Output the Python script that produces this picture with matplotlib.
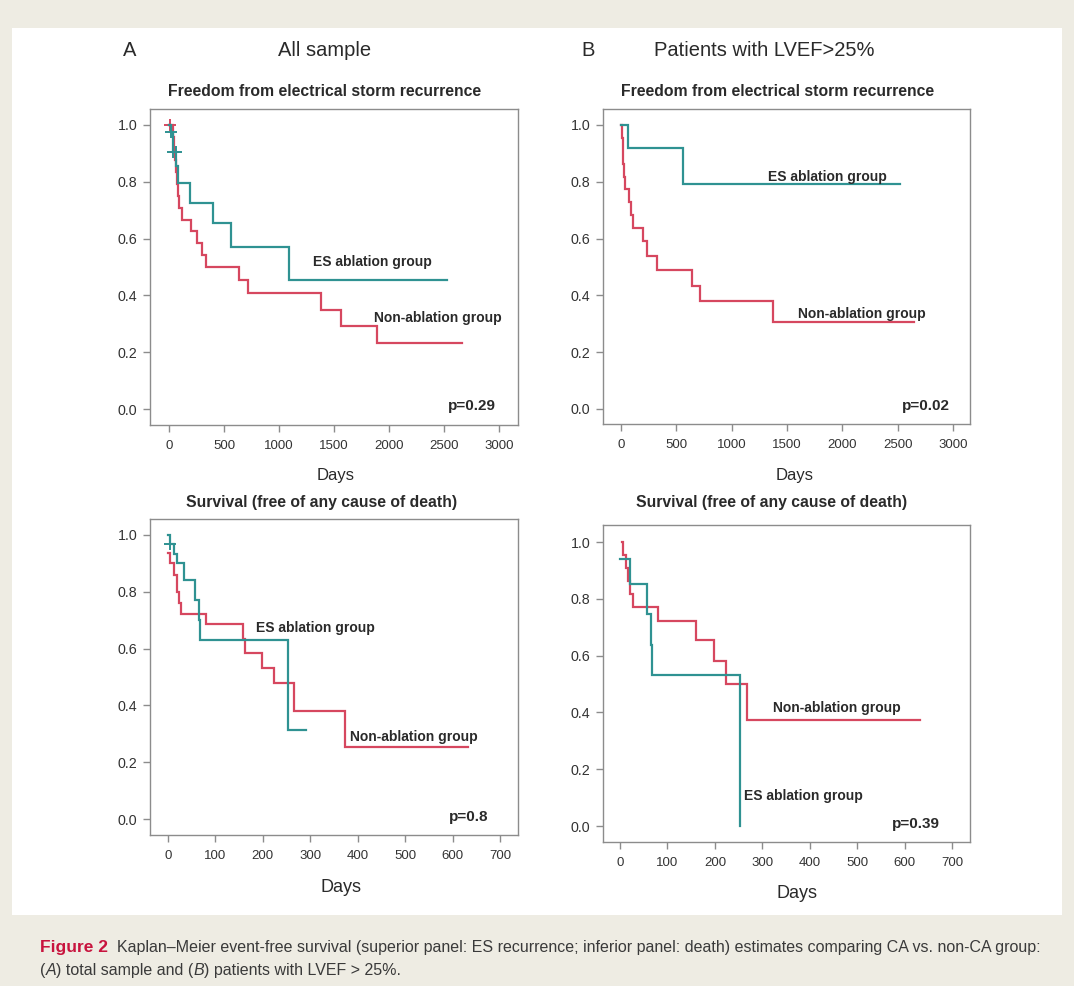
import numpy as np
import matplotlib.pyplot as plt
from matplotlib.patches import Rectangle

W, H = 1074, 986

# ---- freedom from ES recurrence, all sample ----
storm_all_ca_t = [0, 15, 40, 65, 85, 190, 403, 563, 1093, 2528]
storm_all_ca_s = [1.0, 0.976, 0.906, 0.855, 0.797, 0.726, 0.654, 0.572, 0.456, 0.456]
storm_all_ca_cens = [15, 40, 62]
storm_all_nonca_t = [0, 38, 45, 52, 60, 70, 78, 90, 115, 197, 250, 297, 336,
                     639, 715, 1378, 1568, 1895, 2667]
storm_all_nonca_s = [1.0, 0.958, 0.917, 0.875, 0.833, 0.792, 0.75, 0.708, 0.667,
                     0.625, 0.583, 0.542, 0.50, 0.455, 0.41, 0.35, 0.292, 0.234, 0.234]
storm_all_nonca_cens = [10]

# ---- freedom from ES recurrence, LVEF > 25% ----
storm_ef_ca_t = [0, 66, 564, 2517]
storm_ef_ca_s = [1.0, 0.92, 0.791, 0.791]
storm_ef_ca_cens = []
storm_ef_nonca_t = [0, 8, 15, 22, 30, 39, 75, 87, 105, 202, 238, 329, 645, 714, 1372, 2650]
storm_ef_nonca_s = [1.0, 0.955, 0.909, 0.864, 0.818, 0.773, 0.727, 0.682, 0.636,
                    0.591, 0.54, 0.489, 0.434, 0.381, 0.305, 0.305]
storm_ef_nonca_cens = []

# ---- survival, all sample ----
death_all_ca_t = [0, 4, 12, 19, 33, 56, 65, 68, 253, 292]
death_all_ca_s = [1.0, 0.967, 0.933, 0.90, 0.842, 0.771, 0.70, 0.63, 0.315, 0.315]
death_all_ca_cens = [4]
death_all_nonca_t = [0, 5, 12, 19, 23, 28, 81, 159, 162, 199, 223, 266, 374, 632]
death_all_nonca_s = [0.935, 0.90, 0.86, 0.80, 0.76, 0.72, 0.685, 0.635, 0.586,
                     0.533, 0.478, 0.38, 0.252, 0.252]
death_all_nonca_cens = []

# ---- survival, LVEF > 25% ----
death_ef_ca_t = [0, 20, 56, 65, 68, 253]
death_ef_ca_s = [0.939, 0.853, 0.746, 0.639, 0.531, 0.0]
death_ef_ca_cens = []
death_ef_nonca_t = [4, 6, 13, 17, 21, 28, 80, 160, 199, 223, 267, 632]
death_ef_nonca_s = [1.0, 0.955, 0.909, 0.864, 0.818, 0.771, 0.721, 0.654, 0.581,
                    0.502, 0.375, 0.375]
death_ef_nonca_cens = []

y_ticks = [0.0, 0.2, 0.4, 0.6, 0.8, 1.0]
storm_x_ticks = [0, 500, 1000, 1500, 2000, 2500, 3000]
death_x_ticks = [0, 100, 200, 300, 400, 500, 600, 700]

TEAL = '#2f9292'
RED = '#d6475f'
GREY = '#8c8c8c'
TXT = '#2a2a2a'

plt.rcParams['font.family'] = ['Liberation Sans', 'DejaVu Sans']

fig = plt.figure(figsize=(W / 100, H / 100), dpi=100)
fig.patch.set_facecolor('#eeece3')
fig.patches.append(Rectangle((12 / W, 1 - 915 / H), 1050 / W, 887 / H,
                             transform=fig.transFigure, facecolor='white',
                             edgecolor='none', zorder=-5))


def px_text(x, y, s, **kw):
    return fig.text(x / W, 1 - y / H, s, **kw)


def make_axes(left, top, right, bottom, xlim, ylim, xticks):
    ax = fig.add_axes([left / W, 1 - bottom / H, (right - left) / W, (bottom - top) / H])
    ax.set_xlim(xlim)
    ax.set_ylim(ylim)
    ax.set_xticks(xticks)
    ax.set_yticks(y_ticks)
    ax.set_yticklabels([f"{v:.1f}" for v in y_ticks])
    for sp in ax.spines.values():
        sp.set_color(GREY)
        sp.set_linewidth(1.0)
    ax.tick_params(direction='out', length=5, width=1, color=GREY,
                   labelsize=9.5, labelcolor='#333333')
    ax.tick_params(axis='x', pad=6)
    ax.tick_params(axis='y', pad=4, labelsize=10.3)
    return ax


def km(ax, t, s, cens, color):
    ax.step(t, s, where='post', color=color, lw=1.6, solid_joinstyle='miter')
    if cens:
        idx = np.searchsorted(t, cens, side='right') - 1
        ax.plot(cens, np.array(s)[idx], ls='none', marker='+', ms=9, mew=1.4, color=color)


def group_label(ax, x, y, s, ha='center'):
    ax.text(x, y, s, ha=ha, va='center', fontsize=10, fontweight='bold', color=TXT)


def p_label(ax, x, y, s):
    ax.text(x, y, s, ha='right', va='center', fontsize=11, fontweight='bold', color=TXT)


# top left
ax1 = make_axes(150, 109, 518, 425, (-173, 3173), (-0.056, 1.056), storm_x_ticks)
km(ax1, storm_all_nonca_t, storm_all_nonca_s, storm_all_nonca_cens, RED)
km(ax1, storm_all_ca_t, storm_all_ca_s, storm_all_ca_cens, TEAL)
group_label(ax1, 1847, 0.519, 'ES ablation group')
group_label(ax1, 2446, 0.322, 'Non-ablation group')
p_label(ax1, 2976, 0.01, 'p=0.29')

# top right
ax2 = make_axes(603, 109, 970, 424, (-163, 3153), (-0.053, 1.056), storm_x_ticks)
km(ax2, storm_ef_nonca_t, storm_ef_nonca_s, storm_ef_nonca_cens, RED)
km(ax2, storm_ef_ca_t, storm_ef_ca_s, storm_ef_ca_cens, TEAL)
group_label(ax2, 1860, 0.818, 'ES ablation group')
group_label(ax2, 2177, 0.333, 'Non-ablation group')
p_label(ax2, 2970, 0.01, 'p=0.02')

# bottom left
ax3 = make_axes(150, 519, 518, 835, (-38, 738), (-0.056, 1.056), death_x_ticks)
km(ax3, death_all_nonca_t, death_all_nonca_s, death_all_nonca_cens, RED)
km(ax3, death_all_ca_t, death_all_ca_s, death_all_ca_cens, TEAL)
group_label(ax3, 310, 0.674, 'ES ablation group')
group_label(ax3, 519, 0.29, 'Non-ablation group')
p_label(ax3, 675, 0.008, 'p=0.8')

# bottom right
ax4 = make_axes(603, 525, 970, 842, (-36, 738), (-0.056, 1.06), death_x_ticks)
km(ax4, death_ef_nonca_t, death_ef_nonca_s, death_ef_nonca_cens, RED)
km(ax4, death_ef_ca_t, death_ef_ca_s, death_ef_ca_cens, TEAL)
group_label(ax4, 457, 0.417, 'Non-ablation group')
group_label(ax4, 262, 0.105, 'ES ablation group', ha='left')
p_label(ax4, 674, 0.006, 'p=0.39')

# panel headings
head_kw = dict(ha='center', va='center', fontsize=14.5, color=TXT)
px_text(130, 50, 'A', **head_kw)
px_text(325, 50, 'All sample', **head_kw)
px_text(588, 50, 'B', **head_kw)
px_text(764, 50, 'Patients with LVEF>25%', **head_kw)

# subplot titles
title_kw = dict(ha='center', va='center', fontsize=11.3, fontweight='bold', color=TXT)
px_text(325, 92, 'Freedom from electrical storm recurrence', **title_kw)
px_text(778, 92, 'Freedom from electrical storm recurrence', **title_kw)
px_text(322, 502, 'Survival (free of any cause of death)', **title_kw)
px_text(772, 502, 'Survival (free of any cause of death)', **title_kw)

# x axis labels
px_text(336, 475, 'Days', ha='center', va='center', fontsize=12, color=TXT)
px_text(795, 475, 'Days', ha='center', va='center', fontsize=12, color=TXT)
px_text(341, 887, 'Days', ha='center', va='center', fontsize=13, color=TXT)
px_text(797, 893, 'Days', ha='center', va='center', fontsize=13, color=TXT)

# caption, pieces chained one after another
cap_kw = dict(fontsize=11.5, color='#3a3a3a', va='bottom')
first = px_text(40, 955, 'Figure 2', fontsize=12.5, fontweight='bold',
                color='#c8143e', va='bottom')
plt.annotate('  Kaplan\u2013Meier event-free survival (superior panel: ES recurrence; '
             'inferior panel: death) estimates comparing CA vs. non-CA group:',
             xy=(1, 0), xycoords=first, annotation_clip=False, **cap_kw)

line2 = [('(', 'normal'), ('A', 'italic'), (') total sample and (', 'normal'),
         ('B', 'italic'), (') patients with LVEF > 25%.', 'normal')]
prev = px_text(40, 978, line2[0][0], style=line2[0][1], **cap_kw)
for s, style in line2[1:]:
    prev = plt.annotate(s, xy=(1, 0), xycoords=prev, style=style,
                        annotation_clip=False, **cap_kw)

fig.savefig('out.png', dpi=100, facecolor=fig.get_facecolor())
